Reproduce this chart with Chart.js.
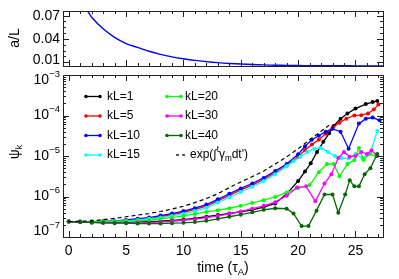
<!DOCTYPE html>
<html>
<head>
<meta charset="utf-8">
<script src="https://cdn.jsdelivr.net/npm/chart.js@4.4.1/dist/chart.umd.min.js"></script>
<style>
  body { margin: 0; background: #fff; }
  #wrap { position: relative; width: 399px; height: 279px; }
  #wrap canvas { position: absolute; left: 0; top: 0; }
</style>
</head>
<body>
<div id="wrap">
  <canvas id="topPanel" width="399" height="279"></canvas>
  <canvas id="bottomPanel" width="399" height="279"></canvas>
</div>
<script>
// ---- top panel: a/L against time
const timeA = [1.6, 2, 3, 4, 5, 6, 7, 8, 9, 10, 11, 12, 13, 14, 15, 16, 17, 18, 19, 20, 21, 22, 23, 24, 25, 26, 27, 27.4];
const aOverL = [0.077, 0.068, 0.053, 0.042, 0.034, 0.029, 0.024, 0.020, 0.0168, 0.0143, 0.0122, 0.0106, 0.0093, 0.0083,
  0.0075, 0.0069, 0.0064, 0.0060, 0.0058, 0.0056, 0.0055, 0.0054, 0.0053, 0.0053, 0.0052, 0.0052, 0.0052, 0.0052];

// ---- bottom panel: psi_k for each kL (each run has its own output times)
const early20 = [0, 1, 2, 3, 4, 5, 6, 7, 8, 9, 10, 11, 12, 13, 14, 15, 16, 17, 18, 19];

const tKL1 = early20.concat([20, 20.6, 21.1, 21.65, 22.2, 22.7, 23.1, 23.7, 24.3, 25, 25.9, 26.5, 26.9]);
const psiKL1 = [2.40e-7, 2.34e-7, 2.29e-7, 2.29e-7, 2.29e-7, 2.29e-7, 2.34e-7, 2.40e-7, 2.45e-7, 2.57e-7, 2.69e-7,
  2.88e-7, 3.16e-7, 3.47e-7, 3.80e-7, 4.17e-7, 4.68e-7, 5.50e-7, 6.76e-7, 1.17e-6, 2.40e-6,
  4.17e-6, 6.61e-6, 1.26e-5, 2.24e-5, 3.63e-5, 5.50e-5, 8.32e-5, 1.12e-4, 1.48e-4, 1.91e-4, 2.14e-4, 2.29e-4];

const tKL5 = early20.concat([20, 20.6, 21.2, 21.8, 22.4, 23, 23.6, 24.2, 24.9, 25.5, 26.1, 26.6, 27]);
const psiKL5 = [2.40e-7, 2.40e-7, 2.40e-7, 2.40e-7, 2.45e-7, 2.51e-7, 2.69e-7, 2.88e-7, 3.16e-7, 3.55e-7, 4.07e-7,
  4.79e-7, 5.75e-7, 7.76e-7, 1.07e-6, 1.45e-6, 1.91e-6, 2.63e-6, 3.89e-6, 5.75e-6, 9.55e-6,
  1.41e-5, 1.91e-5, 2.51e-5, 3.55e-5, 5.01e-5, 6.61e-5, 8.32e-5, 1.00e-4, 1.02e-4, 1.12e-4, 1.41e-4, 1.86e-4];

const tKL10 = early20.concat([20, 20.6, 21.2, 21.8, 22.4, 23, 23.7, 24.4, 25.3, 25.9, 26.5, 27.1]);
const psiKL10 = [2.40e-7, 2.40e-7, 2.40e-7, 2.45e-7, 2.51e-7, 2.63e-7, 2.82e-7, 3.02e-7, 3.39e-7, 3.80e-7, 4.37e-7,
  5.13e-7, 6.31e-7, 8.51e-7, 1.17e-6, 1.58e-6, 2.09e-6, 2.88e-6, 4.27e-6, 6.31e-6, 1.10e-5,
  1.74e-5, 2.51e-5, 3.16e-5, 3.98e-5, 4.68e-5, 3.98e-5, 1.51e-5, 6.31e-5, 8.32e-5, 8.91e-5, 7.59e-5];

const tKL15 = early20.concat([19.6, 20.2, 20.8, 21.4, 22, 22.6, 23.2, 23.8, 24.4, 25, 25.6, 26.3, 26.9]);
const psiKL15 = [2.40e-7, 2.40e-7, 2.40e-7, 2.40e-7, 2.45e-7, 2.51e-7, 2.63e-7, 2.82e-7, 3.02e-7, 3.31e-7, 3.72e-7,
  4.37e-7, 5.25e-7, 7.08e-7, 9.55e-7, 1.29e-6, 1.74e-6, 2.40e-6, 3.55e-6, 5.62e-6,
  7.41e-6, 9.55e-6, 1.26e-5, 1.51e-5, 1.58e-5, 1.26e-5, 1.00e-5, 8.91e-6, 8.71e-6, 1.12e-5, 8.91e-6, 1.20e-5, 4.17e-5];

const tKL20 = early20.concat([20, 21, 21.8, 22.5, 23.1, 23.6, 24.3, 24.9, 25.3, 25.7, 26.2, 26.8]);
const psiKL20 = [2.40e-7, 2.40e-7, 2.40e-7, 2.40e-7, 2.40e-7, 2.45e-7, 2.51e-7, 2.63e-7, 2.82e-7, 3.02e-7, 3.31e-7,
  3.72e-7, 4.17e-7, 4.57e-7, 5.13e-7, 5.89e-7, 6.92e-7, 8.13e-7, 9.77e-7, 1.26e-6, 1.62e-6, 1.91e-6,
  3.98e-6, 6.31e-6, 6.31e-6, 3.16e-6, 6.31e-6, 7.94e-6, 1.58e-5, 7.94e-6, 1.12e-5, 1.00e-5];

const tKL30 = early20.concat([19.9, 20.7, 21.5, 22.3, 22.9, 23.5, 24, 24.5, 25, 25.5, 26, 26.4, 26.9]);
const psiKL30 = [2.40e-7, 2.34e-7, 2.29e-7, 2.24e-7, 2.24e-7, 2.24e-7, 2.24e-7, 2.29e-7, 2.34e-7, 2.45e-7, 2.57e-7,
  2.75e-7, 3.02e-7, 3.31e-7, 3.72e-7, 4.27e-7, 5.01e-7, 5.89e-7, 7.24e-7, 1.05e-6,
  1.66e-6, 1.78e-6, 7.59e-7, 2.09e-6, 3.55e-6, 8.91e-6, 1.26e-5, 9.55e-6, 1.00e-5, 1.26e-5, 1.12e-5, 1.38e-5, 1.00e-5];

const tKL40 = early20.concat([19.6, 20.3, 20.9, 21.6, 22.3, 23, 23.5, 24.1, 24.5, 24.9, 25.3, 25.8, 26.3, 26.9]);
const psiKL40 = [2.40e-7, 2.34e-7, 2.29e-7, 2.24e-7, 2.19e-7, 2.19e-7, 2.14e-7, 2.14e-7, 2.14e-7, 2.19e-7, 2.24e-7,
  2.34e-7, 2.51e-7, 2.82e-7, 3.16e-7, 3.55e-7, 4.07e-7, 4.68e-7, 5.13e-7, 5.01e-7,
  3.80e-7, 1.86e-7, 1.86e-7, 4.47e-7, 1.12e-6, 1.12e-6, 3.98e-7, 1.12e-6, 2.51e-6, 1.78e-6, 1.78e-6, 3.55e-6, 5.01e-6, 1.12e-5];

// exp(int gamma_m dt) estimate
const tExp = early20.concat([20, 21, 22, 22.7]);
const psiExp = [2.40e-7, 2.45e-7, 2.51e-7, 2.69e-7, 2.88e-7, 3.16e-7, 3.47e-7, 3.80e-7, 4.27e-7, 4.90e-7, 5.75e-7,
  7.08e-7, 8.91e-7, 1.17e-6, 1.66e-6, 2.29e-6, 3.09e-6, 4.27e-6, 6.31e-6, 9.55e-6, 1.51e-5, 2.51e-5, 4.07e-5, 5.75e-5];

const runLabels = ['kL=1', 'kL=5', 'kL=10', 'kL=15', 'kL=20', 'kL=30', 'kL=40'];
const runColors = ['#000000', '#ff0000', '#0000ff', '#00ffff', '#00ff00', '#ff00ff', '#006a00'];
const runTimes = [tKL1, tKL5, tKL10, tKL15, tKL20, tKL30, tKL40];
const runPsi = [psiKL1, psiKL5, psiKL10, psiKL15, psiKL20, psiKL30, psiKL40];

// ticks
const timeTicks = [0, 5, 10, 15, 20, 25];
const timeMinor = [1, 2, 3, 4, 6, 7, 8, 9, 11, 12, 13, 14, 16, 17, 18, 19, 21, 22, 23, 24, 26, 27];
const aTicks = [0.01, 0.04, 0.07];
const aMinor = [0.0175, 0.025, 0.0325, 0.0475, 0.055, 0.0625];
const psiDecades = [-7, -6, -5, -4, -3];

const FONT = '"Liberation Sans", Arial, Helvetica, sans-serif';
const xy = (xs, ys) => xs.map((x, i) => ({ x, y: ys[i] }));

// text with sub/superscript pieces: [[text, 'n'|'sub'|'sup'], ...]
function drawRich(ctx, parts, x, y, size, align) {
  const small = size * 0.68;
  let w = 0;
  parts.forEach(p => {
    ctx.font = (p[1] === 'n' ? size : small) + 'px ' + FONT;
    w += ctx.measureText(p[0]).width;
  });
  let cx = align === 'right' ? x - w : align === 'center' ? x - w / 2 : x;
  ctx.textAlign = 'left';
  ctx.textBaseline = 'middle';
  parts.forEach(p => {
    ctx.font = (p[1] === 'n' ? size : small) + 'px ' + FONT;
    const dy = p[1] === 'sup' ? -size * 0.42 : p[1] === 'sub' ? size * 0.3 : 0;
    ctx.fillText(p[0], cx, y + dy);
    cx += ctx.measureText(p[0]).width;
  });
}

function drawRotated(ctx, parts, x, y, size) {
  ctx.save();
  ctx.translate(x, y);
  ctx.rotate(-Math.PI / 2);
  drawRich(ctx, parts, 0, 0, size, 'center');
  ctx.restore();
}

// IDL-like box with inward ticks and hand placed labels
const idlAxes = {
  id: 'idlAxes',
  afterDatasetsDraw(chart, args, o) {
    const { ctx, chartArea: a } = chart;
    const xs = chart.scales.x, ys = chart.scales.y;
    ctx.save();
    ctx.strokeStyle = '#222';
    ctx.lineWidth = 1;
    ctx.beginPath();
    const seg = (x1, y1, x2, y2) => { ctx.moveTo(x1, y1); ctx.lineTo(x2, y2); };
    const xt = (v, len) => {
      const p = Math.round(xs.getPixelForValue(v)) + 0.5;
      seg(p, a.bottom, p, a.bottom - len);
      seg(p, a.top, p, a.top + len);
    };
    const yt = (v, len) => {
      const p = Math.round(ys.getPixelForValue(v)) + 0.5;
      seg(a.left, p, a.left + len, p);
      seg(a.right, p, a.right - len, p);
    };
    o.xMajor.forEach(v => xt(v, 6));
    o.xMinor.forEach(v => xt(v, 3));
    o.yMajor.forEach(v => yt(v, 6));
    o.yMinor.forEach(v => yt(v, 3));
    ctx.stroke();
    ctx.strokeRect(a.left + 0.5, a.top + 0.5, a.right - a.left, a.bottom - a.top);

    ctx.fillStyle = '#000';
    o.yLabels.forEach((parts, i) => {
      let p = ys.getPixelForValue(o.yMajor[i]);
      p = Math.min(Math.max(p, a.top + 5), a.bottom - 6);
      drawRich(ctx, parts, a.left - 3, p, 14, 'right');
    });
    if (o.xLabels) {
      o.xMajor.forEach(v => drawRich(ctx, [[String(v), 'n']], xs.getPixelForValue(v), a.bottom + 14, 14, 'center'));
    }
    o.titles.forEach(t => {
      if (t.rotate) drawRotated(ctx, t.parts, t.x, t.y, 14);
      else drawRich(ctx, t.parts, t.x, t.y, 14, 'center');
    });
    ctx.restore();
  }
};

// two-column legend drawn from the datasets
const idlLegend = {
  id: 'idlLegend',
  afterDatasetsDraw(chart, args, o) {
    const ctx = chart.ctx;
    ctx.save();
    chart.data.datasets.forEach((ds, i) => {
      const slot = o.slots[i];
      const y = slot.y;
      ctx.strokeStyle = ds.borderColor;
      ctx.fillStyle = ds.borderColor;
      ctx.lineWidth = 1.3;
      if (ds.borderDash) {
        ctx.setLineDash([3, 3]);
        ctx.beginPath(); ctx.moveTo(slot.x, y); ctx.lineTo(slot.x + 11, y); ctx.stroke();
        ctx.setLineDash([]);
      } else {
        ctx.beginPath(); ctx.moveTo(slot.x, y); ctx.lineTo(slot.x + 14, y); ctx.stroke();
        [slot.x, slot.x + 14].forEach(px => { ctx.beginPath(); ctx.arc(px, y, 1.8, 0, Math.PI * 2); ctx.fill(); });
      }
      ctx.fillStyle = '#000';
      drawRich(ctx, slot.parts || [[ds.label, 'n']], slot.tx, y, 12, 'left');
    });
    ctx.restore();
  }
};

const baseOptions = {
  responsive: false,
  animation: false,
  devicePixelRatio: 1,
  events: [],
  plugins: { legend: { display: false }, tooltip: { enabled: false } },
};

// top: a/L
new Chart(document.getElementById('topPanel'), {
  type: 'line',
  data: {
    datasets: [{
      label: 'a/L',
      data: xy(timeA, aOverL),
      borderColor: '#0000ff',
      borderWidth: 1.4,
      pointRadius: 0,
      tension: 0.3,
    }]
  },
  options: {
    ...baseOptions,
    layout: { padding: { left: 63, right: 16, top: 11, bottom: 213 } },
    scales: {
      x: { type: 'linear', min: -0.5, max: 27.4, display: false },
      y: { type: 'linear', min: 0.005, max: 0.076, display: false },
    },
    plugins: {
      ...baseOptions.plugins,
      idlAxes: {
        xMajor: timeTicks, xMinor: timeMinor, xLabels: false,
        yMajor: aTicks, yMinor: aMinor,
        yLabels: aTicks.map(v => [[v.toFixed(2), 'n']]),
        titles: [{ parts: [['a/L', 'n']], x: 15, y: 38, rotate: true }],
      }
    }
  },
  plugins: [idlAxes]
});

// bottom: psi_k
const psiMinor = [];
psiDecades.slice(0, -1).forEach(e => { for (let m = 2; m < 10; m++) psiMinor.push(m * Math.pow(10, e)); });

const runSets = runLabels.map((label, i) => ({
  label,
  data: xy(runTimes[i], runPsi[i]),
  borderColor: runColors[i],
  backgroundColor: runColors[i],
  borderWidth: 1.3,
  pointRadius: 2,
  pointBorderWidth: 0,
  pointBackgroundColor: runColors[i],
  tension: 0,
  order: 8 - i,
}));
runSets.push({
  label: "exp(\u222bt\u03b3mdt')",
  data: xy(tExp, psiExp),
  borderColor: '#000000',
  borderWidth: 1.2,
  borderDash: [4, 3],
  pointRadius: 0,
  tension: 0,
  order: 0,
});

const legendRows = [96.5, 116, 135.5, 155];

new Chart(document.getElementById('bottomPanel'), {
  type: 'line',
  data: { datasets: runSets },
  options: {
    ...baseOptions,
    layout: { padding: { left: 63, right: 16, top: 75, bottom: 42 } },
    scales: {
      x: { type: 'linear', min: -0.5, max: 27.4, display: false },
      y: { type: 'logarithmic', min: 1e-7, max: 1e-3, display: false },
    },
    plugins: {
      ...baseOptions.plugins,
      idlAxes: {
        xMajor: timeTicks, xMinor: timeMinor, xLabels: true,
        yMajor: psiDecades.map(e => Math.pow(10, e)), yMinor: psiMinor,
        yLabels: psiDecades.map(e => [['10', 'n'], ['\u2212' + (-e), 'sup']]),
        titles: [
          { parts: [['\u03c8', 'n'], ['k', 'sub']], x: 15, y: 152, rotate: true },
          { parts: [['time (\u03c4', 'n'], ['A', 'sub'], [')', 'n']], x: 223, y: 268 },
        ],
      },
      idlLegend: {
        slots: [
          { x: 86, tx: 107, y: legendRows[0] },
          { x: 86, tx: 107, y: legendRows[1] },
          { x: 86, tx: 107, y: legendRows[2] },
          { x: 86, tx: 107, y: legendRows[3] },
          { x: 167, tx: 185, y: legendRows[0] },
          { x: 167, tx: 185, y: legendRows[1] },
          { x: 167, tx: 185, y: legendRows[2] },
          { x: 176, tx: 190, y: legendRows[3],
            parts: [['exp(\u222b', 'n'], ['t', 'sup'], ['\u03b3', 'n'], ['m', 'sub'], ["dt')", 'n']] },
        ]
      }
    }
  },
  plugins: [idlAxes, idlLegend]
});
</script>
</body>
</html>
